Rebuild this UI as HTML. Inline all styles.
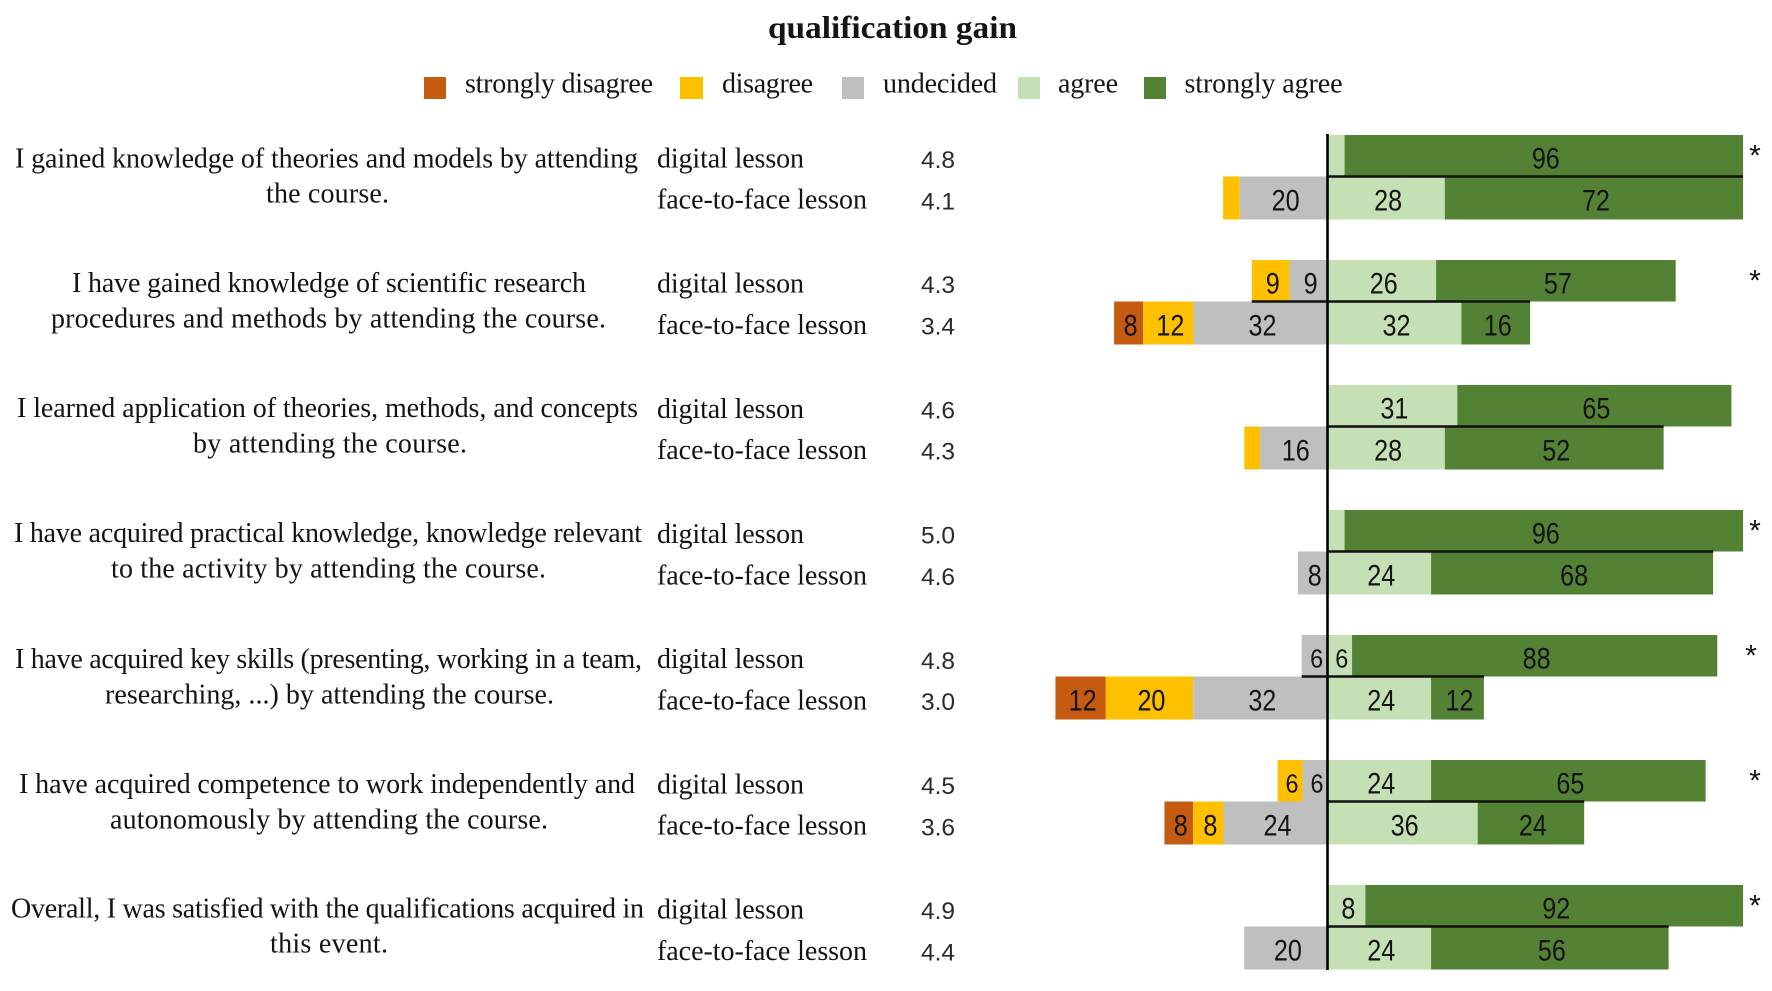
<!DOCTYPE html>
<html lang="en">
<head>
<meta charset="utf-8">
<title>qualification gain</title>
<style>
html,body{margin:0;padding:0;background:#fff;}
svg{display:block;}
text{font-family:"Liberation Serif",serif;fill:#141414;}
.q,.lesson,.leg{font-size:28px;}
.mean{font-family:"Liberation Sans",sans-serif;font-size:24.5px;fill:#2a2a2a;}
.val{font-family:"Liberation Sans",sans-serif;fill:#141414;}
</style>
</head>
<body>
<svg id="chart" width="1772" height="991" viewBox="0 0 1772 991" xmlns="http://www.w3.org/2000/svg">
  <rect x="0" y="0" width="1772" height="991" fill="#ffffff"/>
  <text x="768" y="38" font-size="32" font-weight="bold" textLength="249" lengthAdjust="spacingAndGlyphs">qualification gain</text>

  <g>
    <rect x="424" y="77" width="22" height="22" fill="#C55A11"/>
    <text class="leg" x="465" y="92.5" textLength="188">strongly disagree</text>
    <rect x="680" y="77" width="23" height="22" fill="#FFC000"/>
    <text class="leg" x="722" y="92.5" textLength="91">disagree</text>
    <rect x="842" y="77" width="22" height="22" fill="#BFBFBF"/>
    <text class="leg" x="883" y="92.5" textLength="114">undecided</text>
    <rect x="1018" y="77" width="22" height="22" fill="#C5E0B4"/>
    <text class="leg" x="1058" y="92.5" textLength="60">agree</text>
    <rect x="1144" y="77" width="22" height="22" fill="#548235"/>
    <text class="leg" x="1184.5" y="92.5" textLength="158">strongly agree</text>
  </g>

  <g>
    <text class="q" x="15" y="167.7" textLength="623">I gained knowledge of theories and models by attending</text>
    <text class="q" x="266" y="202.5" textLength="123">the course.</text>
    <text class="q" x="72" y="292" textLength="514">I have gained knowledge of scientific research</text>
    <text class="q" x="51" y="327.5" textLength="555">procedures and methods by attending the course.</text>
    <text class="q" x="17" y="417" textLength="621">I learned application of theories, methods, and concepts</text>
    <text class="q" x="193" y="452.5" textLength="274">by attending the course.</text>
    <text class="q" x="14" y="542" textLength="628">I have acquired practical knowledge, knowledge relevant</text>
    <text class="q" x="111" y="577.5" textLength="435">to the activity by attending the course.</text>
    <text class="q" x="15" y="668" textLength="627">I have acquired key skills (presenting, working in a team,</text>
    <text class="q" x="105" y="703.5" textLength="449">researching, ...) by attending the course.</text>
    <text class="q" x="19" y="793" textLength="616">I have acquired competence to work independently and</text>
    <text class="q" x="110" y="828.5" textLength="438">autonomously by attending the course.</text>
    <text class="q" x="11" y="917.5" textLength="633">Overall, I was satisfied with the qualifications acquired in</text>
    <text class="q" x="270" y="952.5" textLength="118">this event.</text>
  </g>
  <g id="rows"></g>
</svg>
<script>
var categories = ["theories-and-models", "research-procedures", "application", "practical-knowledge", "key-skills", "independent-work", "overall-satisfaction"];
var groups = ["digital lesson", "face-to-face lesson"];
var seriesNames = ["strongly-disagree", "disagree", "undecided", "agree", "strongly-agree"];
var seriesColors = ["#C55A11", "#FFC000", "#BFBFBF", "#C5E0B4", "#548235"];

/* Bar lengths (percent); the source's printed labels are rounded separately below. */
var stronglyDisagreeDigital = [0, 0, 0, 0, 0, 0, 0];
var disagreeDigital = [0, 9.1, 0, 0, 0, 6, 0];
var undecidedDigital = [0, 9.1, 0, 0, 6.2, 6, 0];
var agreeDigital = [4.1, 26.1, 31.2, 4.1, 5.9, 24.9, 9.1];
var stronglyAgreeDigital = [95.8, 57.6, 65.9, 95.8, 87.8, 66, 90.8];

var stronglyDisagreeFace = [0, 7, 0, 0, 12.1, 6.9, 0];
var disagreeFace = [4, 12.1, 3.8, 0, 21, 7.3, 0];
var undecidedFace = [21.1, 32.2, 16.2, 7.1, 32.3, 25, 20];
var agreeFace = [28.2, 32.2, 28.2, 24.9, 24.9, 36.1, 24.9];
var stronglyAgreeFace = [71.7, 16.5, 52.6, 67.8, 12.7, 25.6, 57.1];

/* Printed labels, one row per question: strongly disagree, disagree, undecided, agree, strongly agree */
var printedDigital = [
  ["", "", "", "", "96"],
  ["", "9", "9", "26", "57"],
  ["", "", "", "31", "65"],
  ["", "", "", "", "96"],
  ["", "", "6", "6", "88"],
  ["", "6", "6", "24", "65"],
  ["", "", "", "8", "92"]
];
var printedFace = [
  ["", "", "20", "28", "72"],
  ["8", "12", "32", "32", "16"],
  ["", "", "16", "28", "52"],
  ["", "", "8", "24", "68"],
  ["12", "20", "32", "24", "12"],
  ["8", "8", "24", "36", "24"],
  ["", "", "20", "24", "56"]
];

var meansDigital = ["4.8", "4.3", "4.6", "5.0", "4.8", "4.5", "4.9"];
var meansFace = ["4.1", "3.4", "4.3", "4.6", "3.0", "3.6", "4.4"];
var significant = [1, 1, 0, 1, 1, 1, 1];

var NS = "http://www.w3.org/2000/svg";
var root = document.getElementById("rows");

function xScale(v) { return 1327.5 + v * 4.16; }
function rowTop(i) { return 135 + i * 125; }
function textTop(i) { return 135.7 + i * 125.2; }
function barTop(i, g) { return rowTop(i) + (g === 0 ? 0 : 41.5); }
function barHeight(g) { return g === 0 ? 41.5 : 43; }

function make(tag, attrs, parent) {
  var el = document.createElementNS(NS, tag);
  for (var k in attrs) { el.setAttribute(k, attrs[k]); }
  parent.appendChild(el);
  return el;
}

categories.forEach(function (cat, i) {
  var digital = [stronglyDisagreeDigital[i], disagreeDigital[i], undecidedDigital[i], agreeDigital[i], stronglyAgreeDigital[i]];
  var face = [stronglyDisagreeFace[i], disagreeFace[i], undecidedFace[i], agreeFace[i], stronglyAgreeFace[i]];
  var rows = [digital, face];
  var printed = [printedDigital[i], printedFace[i]];
  var extents = [];

  rows.forEach(function (vals, g) {
    var y = barTop(i, g);
    var h = barHeight(g);
    var neg = vals[0] + vals[1] + vals[2];
    var pos = vals[3] + vals[4];
    extents.push([neg, pos]);
    var cursor = -neg;
    vals.forEach(function (v, s) {
      if (v > 0) {
        var x0 = xScale(cursor);
        var x1 = xScale(cursor + v);
        var bar = make("rect", { x: x0, y: y, width: x1 - x0, height: h, fill: seriesColors[s] }, root);
        
        
      }
      cursor += v;
    });

    var lessonBase = textTop(i) + (g === 0 ? 31.7 : 73);
    var lesson = make("text", { x: 657, y: lessonBase, "class": "lesson", textLength: g === 0 ? 147 : 210 }, root);
    lesson.textContent = groups[g];
    
    

    var mean = make("text", { x: 938, y: lessonBase + 0.6, "class": "mean", "text-anchor": "middle" }, root);
    mean.textContent = g === 0 ? meansDigital[i] : meansFace[i];
    
    
  });

  rows.forEach(function (vals, g) {
    var y = barTop(i, g);
    var h = barHeight(g);
    var neg = vals[0] + vals[1] + vals[2];
    var cursor = -neg;
    vals.forEach(function (v, s) {
      var text = printed[g][s];
      if (text !== "") {
        var cx = (xScale(cursor) + xScale(cursor + v)) / 2 + 2;
        var small = v <= 6.5;
        var label = make("text", {
          x: cx,
          y: y + h / 2 + (small ? 11.5 : 12.5),
          "class": "val",
          "font-size": small ? 26 : 30,
          "text-anchor": "middle",
          textLength: text.length * (small ? 13 : 14),
          lengthAdjust: "spacingAndGlyphs"
        }, root);
        label.textContent = text;
        
        
      }
      cursor += v;
    });
  });

  var left = i === 5 ? xScale(0) : xScale(-Math.min(extents[0][0], extents[1][0]));
  var right = xScale(Math.min(extents[0][1], extents[1][1]));
  var divider = make("line", { x1: left, x2: right, y1: barTop(i, 1), y2: barTop(i, 1), stroke: "#111", "stroke-width": 2.6 }, root);
  
  

  if (significant[i]) {
    var star = make("text", { x: i === 4 ? 1751 : 1755, y: rowTop(i) + 30.5, "class": "val", "font-size": 30, "text-anchor": "middle" }, root);
    star.textContent = "*";
    
    
  }
});

var axis = make("line", { x1: xScale(0), x2: xScale(0), y1: 134, y2: 970, stroke: "#000", "stroke-width": 2.6 }, root);


</script>
</body>
</html>
